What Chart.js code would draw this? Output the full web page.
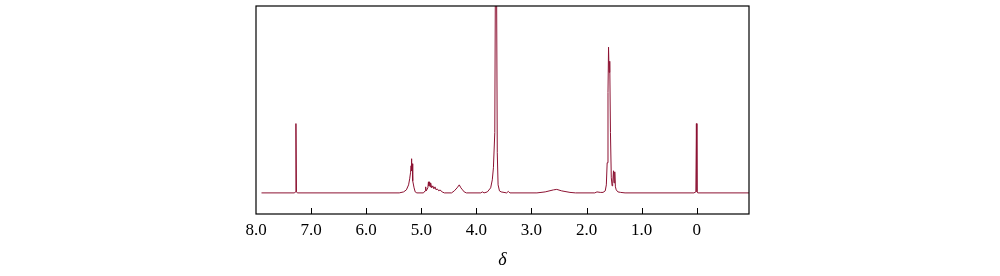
<!DOCTYPE html>
<html>
<head>
<meta charset="utf-8">
<script src="https://cdn.jsdelivr.net/npm/chart.js@4/dist/chart.umd.min.js"></script>
<style>
  html, body { margin: 0; padding: 0; background: #fff; }
  #wrap { width: 1000px; height: 276px; }
</style>
</head>
<body>
<div id="wrap"><canvas id="nmr" width="1000" height="276"></canvas></div>
<script>
// chemical shift (ppm) and intensity
const shiftPpm = [
  7.90, 7.30, 7.285, 7.275, 7.265, 7.25,
  5.40, 5.32, 5.27, 5.23, 5.21, 5.195, 5.185, 5.18, 5.175, 5.17, 5.165, 5.16, 5.155, 5.15, 5.13, 5.11, 5.08,
  4.96, 4.93, 4.92, 4.91, 4.88, 4.87, 4.86, 4.85, 4.84, 4.83, 4.81, 4.79, 4.77, 4.75, 4.73, 4.71, 4.68, 4.66, 4.62, 4.58,
  4.45, 4.40, 4.35, 4.31, 4.28, 4.25, 4.22, 4.18,
  3.92, 3.89, 3.86, 3.80, 3.74, 3.71, 3.69, 3.665, 3.655, 3.643, 3.632, 3.62, 3.605, 3.58, 3.55,
  3.45, 3.42, 3.39,
  2.90, 2.75, 2.60, 2.54, 2.45, 2.30, 2.20,
  1.85, 1.81, 1.75, 1.70, 1.66, 1.64, 1.625, 1.61, 1.60, 1.59, 1.578, 1.565, 1.55, 1.535, 1.525,
  1.51, 1.50, 1.487, 1.475, 1.46, 1.43, 1.38, 1.30,
  0.05, 0.015, 0.005, -0.005, -0.02, -0.95
];
const intensity = [
  0, 0, 1, 69, 1, 0,
  0, 1, 3, 8, 14, 20, 27, 24, 34, 22, 29, 18, 26, 12, 5, 1, 0,
  0, 2, 6, 2, 5, 11, 7, 11, 6, 10, 5, 7, 4, 6, 3, 4, 2, 3, 1, 0,
  0, 2, 5, 8, 5, 3, 1, 0,
  0, 1, 0, 1, 5, 13, 25, 60, 200, 320, 200, 40, 8, 2, 1,
  0, 1.5, 0,
  0, 1, 3, 3.5, 2, 0.5, 0,
  0, 1, 0.5, 0.5, 2, 8, 30, 100, 145, 120, 131, 60, 15, 7, 9,
  22, 10, 21, 6, 3, 1, 0.5, 0,
  0, 1, 69, 1, 0, 0
];
const tickValues = [8, 7, 6, 5, 4, 3, 2, 1, 0];
const tickLabels = ["8.0", "7.0", "6.0", "5.0", "4.0", "3.0", "2.0", "1.0", "0"];

const points = shiftPpm.map((x, i) => ({ x: x, y: intensity[i] }));

// box around the plot area and short inward ticks on the bottom edge
const framePlugin = {
  id: "frame",
  afterDraw(chart) {
    const { ctx, chartArea: a, scales } = chart;
    ctx.save();
    ctx.strokeStyle = "#000";
    ctx.lineWidth = 1.2;
    ctx.strokeRect(a.left, a.top, a.right - a.left, a.bottom - a.top);
    ctx.lineWidth = 1;
    tickValues.forEach(v => {
      const px = Math.round(scales.x.getPixelForValue(v)) + 0.5;
      if (px <= a.left + 1 || px >= a.right - 1) return;
      ctx.beginPath();
      ctx.moveTo(px, a.bottom);
      ctx.lineTo(px, a.bottom - 6);
      ctx.stroke();
    });
    ctx.restore();
  }
};

new Chart(document.getElementById("nmr").getContext("2d"), {
  type: "line",
  data: {
    datasets: [{
      data: points,
      borderColor: "rgb(140, 18, 50)",
      borderWidth: 1,
      pointRadius: 0,
      tension: 0,
      fill: false
    }]
  },
  options: {
    responsive: false,
    animation: false,
    events: [],
    layout: { padding: { left: 256, right: 251, top: 6, bottom: 0 } },
    plugins: { legend: { display: false }, tooltip: { enabled: false } },
    scales: {
      x: {
        type: "linear",
        reverse: true,
        min: -0.95,
        max: 8.0,
        afterBuildTicks(scale) {
          scale.ticks = tickValues.map(v => ({ value: v }));
        },
        afterFit(scale) { scale.height = 62; },
        grid: { display: false },
        border: { display: false },
        ticks: {
          color: "#000",
          padding: -2,
          maxRotation: 0,
          autoSkip: false,
          font: { family: "'Liberation Serif', 'Times New Roman', serif", size: 17 },
          callback: (v) => tickLabels[tickValues.indexOf(v)] ?? ""
        },
        title: {
          display: true,
          text: "δ",
          color: "#000",
          padding: { top: 0, bottom: 5 },
          font: { family: "'Liberation Serif', 'Times New Roman', serif", size: 18, style: "italic" }
        }
      },
      y: {
        display: false,
        min: -21,
        max: 186
      }
    }
  },
  plugins: [framePlugin]
});
</script>
</body>
</html>
